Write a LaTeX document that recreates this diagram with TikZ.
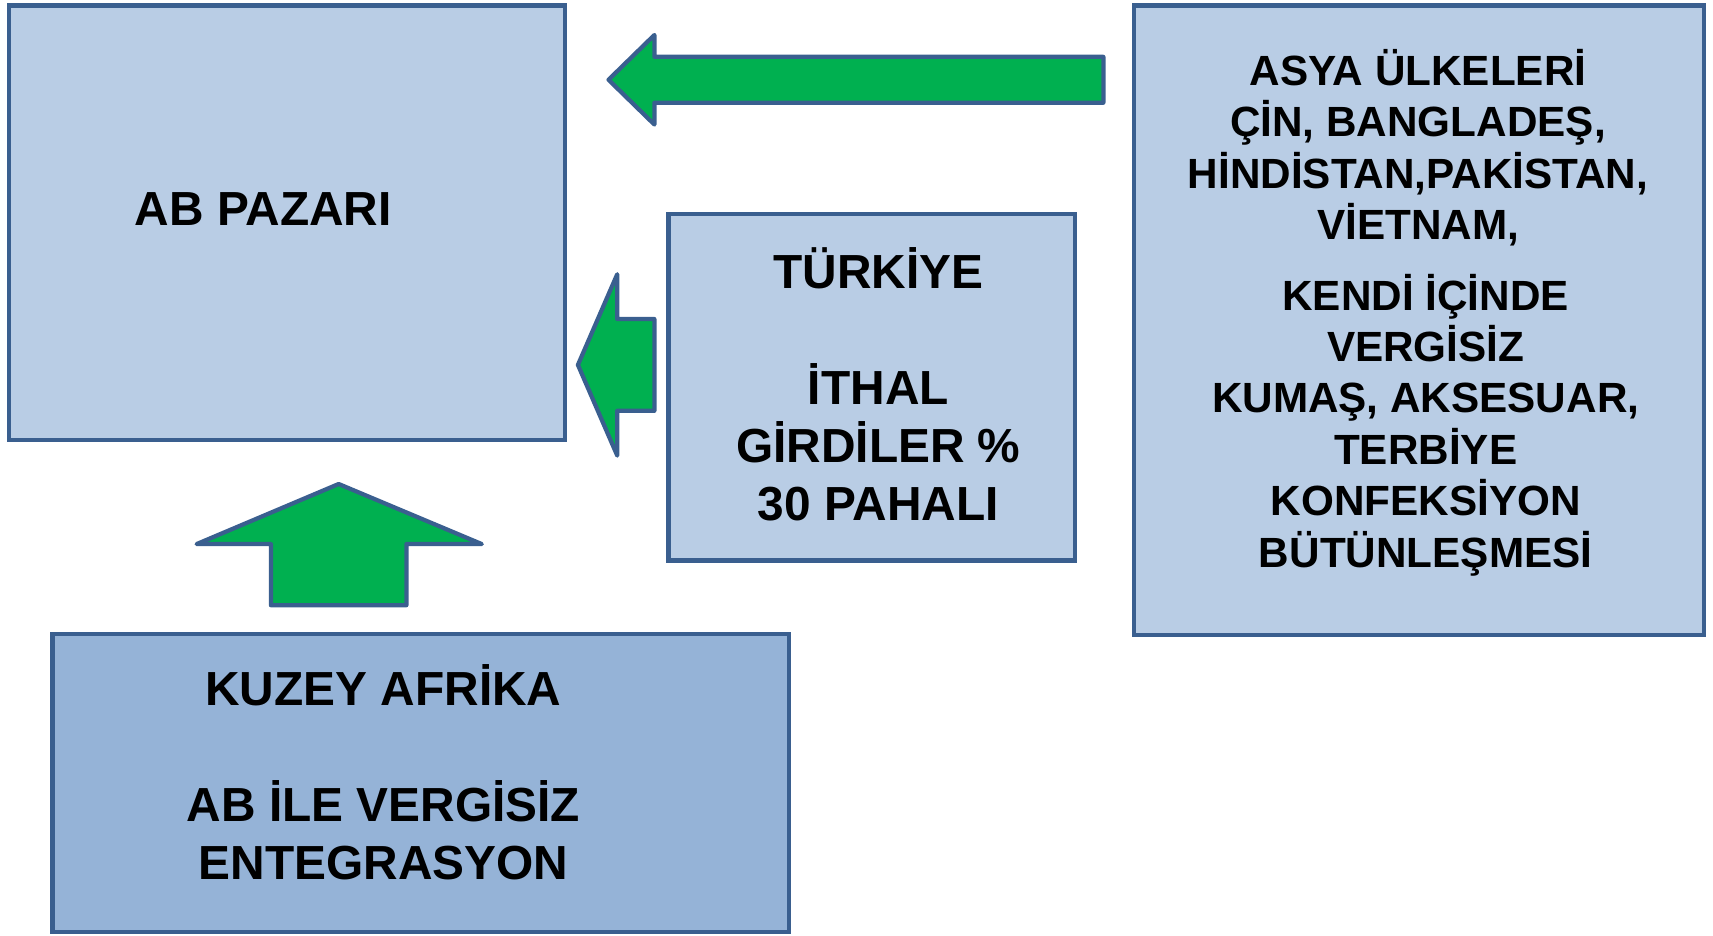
\documentclass[tikz,border=0pt]{standalone}
\usepackage{fontspec}
\setmainfont{Liberation Sans}
\definecolor{boxfill}{HTML}{B9CDE5}
\definecolor{boxdark}{HTML}{95B3D7}
\definecolor{boxline}{HTML}{3A5F8F}
\definecolor{arrowgreen}{HTML}{00B050}
\tikzset{
  box/.style={draw=boxline, line width=1.1pt, fill=boxfill},
  darkbox/.style={box, fill=boxdark},
  blockarrow/.style={draw=boxline, line width=1.1pt, line join=round, fill=arrowgreen},
  lbl/.style={align=center, inner sep=0pt, font=\bfseries\fontsize{12.45}{15.1}\selectfont},
  smalllbl/.style={lbl, font=\bfseries\fontsize{11}{13.4}\selectfont}
}
\begin{document}
\begin{tikzpicture}[x=0.01cm, y=-0.01cm]
    \useasboundingbox (0,0) rectangle (1568,856);
    % boxes
    \draw[box] (8,5) rectangle (517,403);
    \draw[box] (1038,5) rectangle (1560,581);
    \draw[box] (612,196) rectangle (984,513);
    \draw[darkbox] (48,580) rectangle (722,853);
    % texts
    \node[lbl] (abpazari) at (241,191) {AB PAZARI};
    \node[lbl] (turkiye) at (804,352) {TÜRKİYE\\ \\İTHAL\\GİRDİLER \%\\30 PAHALI};
    \node[lbl] (kuzey) at (351,707) {KUZEY AFRİKA\\ \\AB İLE VERGİSİZ\\ENTEGRASYON};
    \node[smalllbl] (asya) at (1298,135) {ASYA ÜLKELERİ\\ÇİN, BANGLADEŞ,\\HİNDİSTAN,PAKİSTAN,\\VİETNAM,};
    \node[smalllbl] (kendi) at (1305,389) {KENDİ İÇİNDE\\VERGİSİZ\\KUMAŞ, AKSESUAR,\\TERBİYE\\KONFEKSİYON\\BÜTÜNLEŞMESİ};
    % arrows
    \draw[blockarrow] (1010,52) -- (599,52) -- (599,32) -- (557,73) -- (599,114) -- (599,94) -- (1010,94) -- cycle;
    \draw[blockarrow] (599,292) -- (565,292) -- (565,251) -- (529,334) -- (565,417) -- (565,376) -- (599,376) -- cycle;
    \draw[blockarrow] (248,554) -- (248,498) -- (180,498) -- (310,443) -- (441,498) -- (372,498) -- (372,554) -- cycle;
\end{tikzpicture}
\end{document}
